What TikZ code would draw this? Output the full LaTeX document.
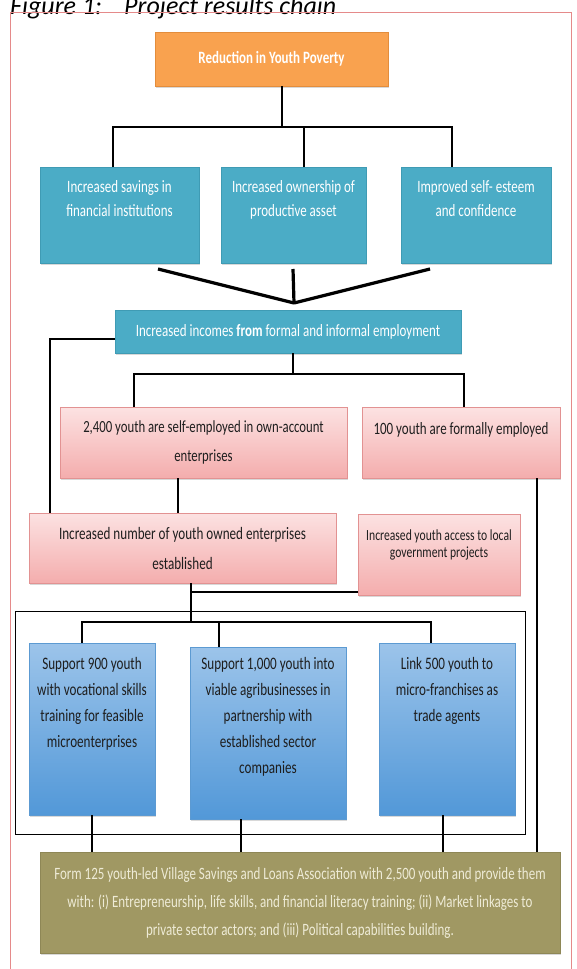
\documentclass[tikz,border=0pt]{standalone}
\usepackage{fontspec}
\setmainfont{Carlito}
\newfontfamily\cf{Carlito}[FakeStretch=0.75]
\usetikzlibrary{shadows,calc}
\definecolor{orangef}{HTML}{F9A24F}
\definecolor{oranged}{HTML}{E38D3C}
\definecolor{cyanf}{HTML}{4BACC6}
\definecolor{cyand}{HTML}{3F9BB4}
\definecolor{pinktop}{HTML}{FCE2E2}
\definecolor{pinkbot}{HTML}{F4ADAD}
\definecolor{pinkd}{HTML}{E29292}
\definecolor{bluetop}{HTML}{9CC4EA}
\definecolor{bluebot}{HTML}{5298D8}
\definecolor{blued}{HTML}{5C9AD2}
\definecolor{olivef}{HTML}{A09863}
\definecolor{olived}{HTML}{8E8756}
\definecolor{olivet}{HTML}{EEEBD6}
\definecolor{framec}{HTML}{E58A8A}
\definecolor{txtd}{HTML}{1E1E1E}
\newcommand\bxt[4]{\parbox[c][#2][t]{#1}{\centering\vspace*{#3}#4\par}}
\newcommand\bxc[3]{\parbox[c][#2][c]{#1}{\centering #3\par}}
\begin{document}
\begin{tikzpicture}[x=1pt,y=-1pt,
  conn/.style={line width=2.4pt, black},
  connv/.style={line width=3.2pt, black},
  base/.style={inner sep=0pt, outer sep=0pt, line width=0.6pt,
    drop shadow={shadow xshift=1.2pt, shadow yshift=-2pt, opacity=0.3}},
  orangebox/.style={base, fill=orangef, draw=oranged, text=white},
  cyanbox/.style={base, fill=cyanf, draw=cyand, text=white},
  pinkbox/.style={base, top color=pinktop, bottom color=pinkbot, draw=pinkd, text=txtd},
  bluebox/.style={base, top color=bluetop, bottom color=bluebot, draw=blued, text=txtd},
  olivebox/.style={base, fill=olivef, draw=olived, text=olivet},
]
\useasboundingbox (0,0) rectangle (577,969);
\clip (0,0) rectangle (577,969);
\fill[white] (0,0) rectangle (577,969);
\node[anchor=base west, inner sep=0pt, font=\fontsize{26}{30}\selectfont\itshape] (title) at (10,14) {Figure 1:\hspace{22pt}Project results chain};
\draw[framec, line width=1pt] (10,12) rectangle (571,990);

% boxes
\node[orangebox] (orange) at (271.5,59) {\bxc{233pt}{54pt}{\cf\fontsize{17.3}{20}\selectfont\bfseries Reduction in Youth Poverty}};
\node[cyanbox] (sav) at (119.5,215) {\bxt{159pt}{96pt}{13.3pt}{\cf\fontsize{17.3}{24}\selectfont Increased savings in\\ financial institutions}};
\node[cyanbox] (own) at (293.5,215) {\bxt{145pt}{96pt}{13.3pt}{\cf\fontsize{17.3}{24}\selectfont Increased ownership of\\ productive asset}};
\node[cyanbox] (est) at (476,215) {\bxt{150pt}{96pt}{13.3pt}{\cf\fontsize{17.3}{24}\selectfont Improved self- esteem\\ and confidence}};
\node[cyanbox] (inc) at (288,331.5) {\bxc{346pt}{43pt}{\cf\fontsize{17.3}{20}\selectfont Increased incomes \textbf{from} formal and informal employment}};
\node[pinkbox] (self) at (203.5,442.5) {\bxc{287pt}{71pt}{\cf\fontsize{17}{29}\selectfont 2,400 youth are self-employed in own-account\\ enterprises}};
\node[pinkbox] (formal) at (461,442.5) {\bxt{198pt}{71pt}{15pt}{\cf\fontsize{17.3}{29}\selectfont 100 youth are formally employed}};
\node[pinkbox] (num) at (182.5,548) {\bxc{307pt}{70pt}{\cf\fontsize{17.5}{30}\selectfont Increased number of youth owned enterprises\\ established}};
\node[pinkbox] (access) at (439,554.5) {\bxt{162pt}{81pt}{15.5pt}{\cf\fontsize{15.5}{17}\selectfont Increased youth access to local\\ government projects}};
\node[draw, line width=1pt, inner sep=0pt, minimum width=510pt, minimum height=223pt] (grp) at (270,722.5) {};
\node[bluebox] (voc) at (92,729) {\bxt{126pt}{172pt}{14.3pt}{\cf\fontsize{17.5}{26}\selectfont Support 900 youth\\ with vocational skills\\ training for feasible\\ microenterprises}};
\node[bluebox] (agri) at (268,733) {\bxt{156pt}{172pt}{10.3pt}{\cf\fontsize{17.5}{26}\selectfont Support 1,000 youth into\\ viable agribusinesses in\\ partnership with\\ established sector\\ companies}};
\node[bluebox] (link) at (447,729) {\bxt{136pt}{172pt}{14.3pt}{\cf\fontsize{17.5}{26}\selectfont Link 500 youth to\\ micro-franchises as\\ trade agents}};
\node[olivebox] (vsla) at (300,902.5) {\bxc{520pt}{101pt}{\cf\fontsize{17.3}{28}\selectfont Form 125 youth-led Village Savings and Loans Association with 2,500 youth and provide them\\ with: (i) Entrepreneurship, life skills, and financial literacy training; (ii) Market linkages to\\ private sector actors; and (iii) Political capabilities building.}};

% connectors
\draw[conn] ([xshift=10.5pt]orange.south) -- ++(0,41) coordinate (tb);
\draw[conn] ([xshift=-6.5pt]sav.north) |- ([xshift=-24pt]est.north |- tb) -- ([xshift=-24pt]est.north);
\draw[conn] ([xshift=10.5pt]own.north) -- ([xshift=10.5pt]own.north |- tb);
\coordinate (cv) at ($(inc.north)+(6,-7)$);
\draw[connv] ([xshift=38.5pt,yshift=-6pt]sav.south) -- (cv);
\draw[connv] ([xshift=-0.5pt,yshift=-6pt]own.south) -- (cv);
\draw[connv] ([xshift=-46pt,yshift=-6pt]est.south) -- (cv);
\draw[conn] ([yshift=-7.5pt]inc.west) -| ([xshift=21pt]num.north west);
\draw[conn] ([xshift=5pt]inc.south) -- ++(0,21) coordinate (mb);
\draw[conn] ([xshift=-69.5pt]self.north) |- ([xshift=3pt]formal.north |- mb) -- ([xshift=3pt]formal.north);
\draw[conn] ([xshift=-25.5pt]self.south) -- ([xshift=-25.5pt]self.south |- num.north);
\draw[conn] ([xshift=76pt]formal.south) -- ([xshift=76pt]formal.south |- vsla.north);
\draw[conn] ([xshift=8.5pt]num.south) -- ++(0,39) coordinate (lb);
\draw[conn] ([yshift=-37.5pt]access.west) -| ([xshift=8.5pt]num.south);
\draw[conn] ([xshift=-10pt]voc.north) |- ([xshift=-16pt]link.north |- lb) -- ([xshift=-16pt]link.north);
\draw[conn] ([xshift=-49pt]agri.north) -- ([xshift=-49pt]agri.north |- lb);
\draw[conn] (voc.south) -- (voc.south |- vsla.north);
\draw[conn] ([xshift=-27pt]agri.south) -- ([xshift=-27pt]agri.south |- vsla.north);
\draw[conn] ([xshift=-4pt]link.south) -- ([xshift=-4pt]link.south |- vsla.north);
\end{tikzpicture}
\end{document}
